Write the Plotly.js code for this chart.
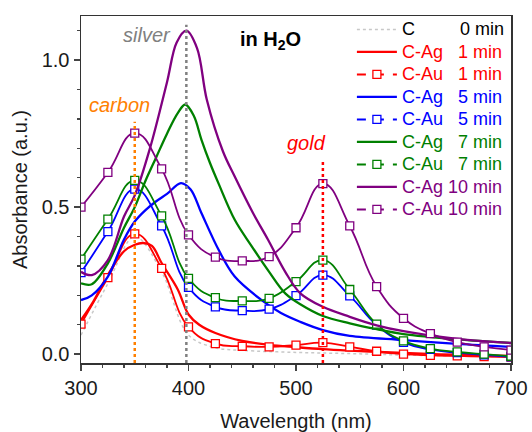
<!DOCTYPE html>
<html>
<head>
<meta charset="utf-8">
<script src="https://cdn.plot.ly/plotly-3.0.1.min.js"></script>
<style>html,body{margin:0;padding:0;background:#fff;}#chart{width:532px;height:432px;}</style>
</head>
<body>
<div id="chart"></div>
<script>
// ---- data ----
var wlAu = [300,325,350,375,400,425,450,475,500,525,550,575,600,625,650,675,700];
var au1  = [0.102,0.26,0.409,0.292,0.093,0.036,0.027,0.025,0.031,0.039,0.025,0.01,0.0,-0.004,-0.006,-0.008,-0.01];
var au5  = [0.277,0.417,0.561,0.436,0.227,0.161,0.148,0.153,0.199,0.269,0.198,0.099,0.04,0.016,0.005,-0.002,-0.009];
var au7  = [0.323,0.459,0.591,0.47,0.258,0.192,0.181,0.19,0.247,0.32,0.22,0.102,0.045,0.019,0.008,0.0,-0.007];
var au10 = [0.50,0.618,0.752,0.63,0.406,0.33,0.317,0.332,0.43,0.58,0.436,0.23,0.122,0.07,0.041,0.025,0.014];

var wlC0 = [300,325,350,375,400,425,450,500,550,600,650,700];
var c0   = [0.065,0.24,0.40,0.28,0.065,0.022,0.013,0.006,0.002,-0.003,-0.006,-0.009];

var wlAg1 = [300,310,325,340,350,358,366,375,390,400,410,425,450,475,500,525,550,600,650,700];
var ag1   = [0.116,0.17,0.27,0.35,0.372,0.378,0.368,0.31,0.22,0.135,0.1,0.072,0.045,0.032,0.024,0.017,0.012,0.004,-0.002,-0.006];

var wlAg5 = [300,310,325,340,350,360,370,380,393,402,412,428,443,468,486,504,525,550,600,650,700];
var ag5   = [0.184,0.20,0.264,0.39,0.451,0.49,0.52,0.545,0.582,0.56,0.48,0.355,0.264,0.184,0.14,0.11,0.082,0.062,0.048,0.035,0.025];

var wlAg7 = [300,310,325,340,350,360,370,380,390,397,405,412,420,428,443,459,475,490,504,525,550,575,600,650,700];
var ag7   = [0.241,0.238,0.309,0.43,0.50,0.59,0.67,0.75,0.82,0.849,0.81,0.73,0.65,0.58,0.457,0.366,0.28,0.207,0.17,0.13,0.105,0.085,0.068,0.05,0.038];

var wlAg10 = [300,310,325,340,350,364,380,389,398,408,417,432,443,460,474,490,504,525,550,575,600,650,700];
var ag10   = [0.28,0.269,0.32,0.468,0.54,0.698,0.925,1.06,1.10,1.04,0.866,0.69,0.604,0.48,0.389,0.28,0.207,0.161,0.127,0.098,0.078,0.052,0.038];

var refX   = [350, 398, 525];
var refTop = [0.79, 1.12, 0.66];

var labels = {
  c0:  'C\u00a0\u00a0\u00a0\u00a0\u00a0\u00a0\u00a0\u00a0\u00a00 min',
  ag1: 'C-Ag\u00a0\u00a0\u00a01 min', au1: 'C-Au\u00a0\u00a0\u00a01 min',
  ag5: 'C-Ag\u00a0\u00a0\u00a05 min', au5: 'C-Au\u00a0\u00a0\u00a05 min',
  ag7: 'C-Ag\u00a0\u00a0\u00a07 min', au7: 'C-Au\u00a0\u00a0\u00a07 min',
  ag10:'C-Ag 10 min', au10:'C-Au 10 min'
};

var RED='#FF0000', BLUE='#0000FF', GREEN='#008000', PURPLE='#800080';

function span(c, t){ return '<span style="color:'+c+';font-size:18px">'+t+'</span>'; }

function agTrace(x,y,c,name){
  return {x:x,y:y,mode:'lines',type:'scatter',name:span(c,name),
    line:{color:c,width:2.3,shape:'spline',smoothing:1}};
}
function auTrace(x,y,c){
  return {x:x,y:y,mode:'lines+markers',type:'scatter',showlegend:false,
    line:{color:c,width:1.8,shape:'spline',smoothing:1.3},
    marker:{symbol:'square',size:8,color:'#ffffff',line:{color:c,width:1.3}}};
}
function auLegend(c,name){
  return {x:[null],y:[null],mode:'lines+markers',type:'scatter',name:span(c,name),
    line:{color:c,width:2,dash:'dash'},
    marker:{symbol:'square',size:8,color:'#ffffff',line:{color:c,width:1.3}}};
}

var traces = [
  {x:wlC0,y:c0,mode:'lines',type:'scatter',name:span('#000000',labels.c0),
   line:{color:'#c8c8c8',width:1.5,dash:'dot',shape:'spline'}},
  agTrace(wlAg1,ag1,RED,labels.ag1), auTrace(wlAu,au1,RED), auLegend(RED,labels.au1),
  agTrace(wlAg5,ag5,BLUE,labels.ag5), auTrace(wlAu,au5,BLUE), auLegend(BLUE,labels.au5),
  agTrace(wlAg7,ag7,GREEN,labels.ag7), auTrace(wlAu,au7,GREEN), auLegend(GREEN,labels.au7),
  agTrace(wlAg10,ag10,PURPLE,labels.ag10), auTrace(wlAu,au10,PURPLE), auLegend(PURPLE,labels.au10)
];

var refColors = ['#FF8000','#808080','#FF0000'];
var shapes = refX.map(function(x,i){
  return {type:'line',xref:'x',yref:'y',x0:x,x1:x,y0:-0.03,y1:refTop[i],
    line:{color:refColors[i],width:2.5,dash:'dot'},layer:'above'};
});

var FONT = 'Liberation Sans, Arial, sans-serif';
var layout = {
  width:532, height:432,
  margin:{l:81,r:21,t:16,b:69,autoexpand:false},
  paper_bgcolor:'#ffffff', plot_bgcolor:'#ffffff',
  font:{family:FONT,color:'#1a1a1a',size:20},
  showlegend:true,
  legend:{x:0.63,xanchor:'left',y:1.008,yanchor:'top',bgcolor:'rgba(0,0,0,0)',
    font:{family:FONT,size:15},itemwidth:40,tracegroupgap:0},
  xaxis:{range:[300,700],dtick:100,tick0:300,ticks:'outside',ticklen:6,tickwidth:1.5,
    showline:true,linewidth:1.5,linecolor:'#333',mirror:true,showgrid:false,zeroline:false,
    tickfont:{size:20},
    minor:{dtick:20,ticks:'outside',ticklen:3,tickwidth:1.2,showgrid:false},
    title:{text:'Wavelength (nm)',font:{size:20},standoff:18}},
  yaxis:{range:[-0.03,1.15],dtick:0.5,tick0:0,tickformat:'.1f',ticks:'outside',ticklen:6,tickwidth:1.5,
    showline:true,linewidth:1.5,linecolor:'#333',mirror:true,showgrid:false,zeroline:false,
    tickfont:{size:20},
    minor:{dtick:0.1,ticks:'outside',ticklen:3,tickwidth:1.2,showgrid:false},
    title:{text:'Absorbance (a.u.)',font:{size:20},standoff:8}},
  shapes:shapes,
  annotations:[
    {text:'<i>silver</i>',x:147,y:35,font:{size:20,color:'#808080'}},
    {text:'<i>carbon</i>',x:119,y:105,font:{size:20,color:'#FF8000'}},
    {text:'<i>gold</i>',x:306,y:143,font:{size:20,color:'#FF0000'}},
    {text:'<b>in H<sub>2</sub>O</b>',x:270,y:40,font:{size:20,color:'#000000'}}
  ]
};
// annotation pixel positions -> paper coords
layout.annotations.forEach(function(a){
  a.xref='paper'; a.yref='paper'; a.showarrow=false;
  a.xanchor='center'; a.yanchor='middle';
  a.x = (a.x-81)/430; a.y = 1-(a.y-16)/347;
});

Plotly.newPlot('chart', traces, layout, {staticPlot:true,displayModeBar:false});
</script>
</body>
</html>
